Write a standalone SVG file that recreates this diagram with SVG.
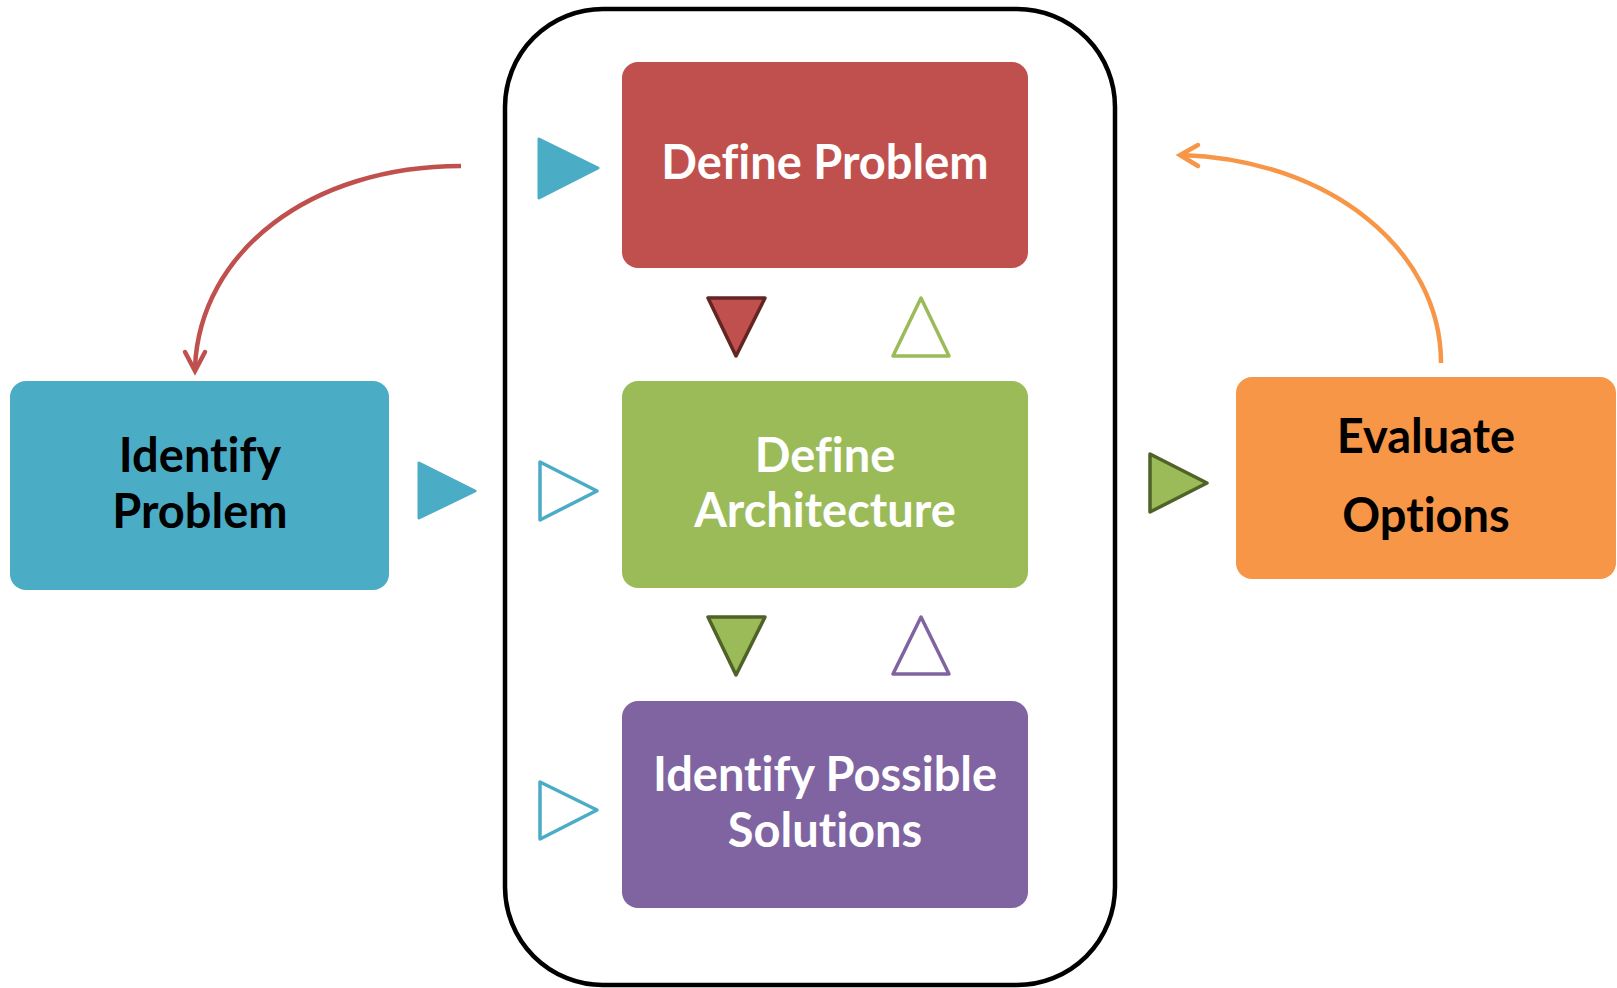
<svg xmlns="http://www.w3.org/2000/svg" width="1617" height="988" viewBox="0 0 1617 988">
  <style>
    .lbl { font-family: Lato, "Open Sans", "Liberation Sans", sans-serif; font-weight: bold; font-size: 47px; text-anchor: middle; font-variant-ligatures: none; font-feature-settings: "liga" 0, "clig" 0; }
    .light { fill: #ffffff; }
    .dark { fill: #000000; }
    .cyan-fill { fill: #4BACC6; stroke: #4BACC6; stroke-width: 3; stroke-linejoin: round; }
    .cyan-open { fill: #ffffff; stroke: #4BACC6; stroke-width: 3.5; stroke-linejoin: round; }
    .link { fill: none; stroke-width: 4.5; stroke-linecap: butt; }
    .head { fill: none; stroke-width: 4.5; stroke-linecap: round; stroke-linejoin: miter; }
  </style>
  <rect width="1617" height="988" fill="#ffffff"/>

  <!-- container around the three central steps -->
  <rect id="container" x="505" y="9" width="610" height="976" rx="98" ry="98" fill="none" stroke="#000000" stroke-width="4.5"/>

  <g id="define-problem">
    <rect x="622" y="62" width="406" height="206" rx="16" fill="#C0504D"/>
    <text class="lbl light" x="825" y="179">Define Problem</text>
  </g>

  <g id="define-architecture">
    <rect x="622" y="381" width="406" height="207" rx="16" fill="#9BBB59"/>
    <text class="lbl light" x="825" y="472">Define</text>
    <text class="lbl light" x="825" y="527">Architecture</text>
  </g>

  <g id="identify-solutions">
    <rect x="622" y="701" width="406" height="207" rx="16" fill="#8064A2"/>
    <text class="lbl light" x="825" y="791">Identify Possible</text>
    <text class="lbl light" x="825" y="847">Solutions</text>
  </g>

  <g id="identify-problem">
    <rect x="10" y="381" width="379" height="209" rx="16" fill="#4BACC6"/>
    <text class="lbl dark" x="200" y="472">Identify</text>
    <text class="lbl dark" x="200" y="528">Problem</text>
  </g>

  <g id="evaluate-options">
    <rect x="1236" y="377" width="380" height="202" rx="16" fill="#F79646"/>
    <text class="lbl dark" x="1426" y="453">Evaluate</text>
    <text class="lbl dark" x="1426" y="532">Options</text>
  </g>

  <g id="connectors">
    <!-- flow markers into the container -->
    <polygon class="cyan-fill" points="539,139 539,198 598,168"/>
    <polygon class="cyan-fill" points="419,463 419,518 475,491"/>
    <polygon class="cyan-open" points="540,462 540,520 597,491"/>
    <polygon class="cyan-open" points="540,782 540,839 597,810"/>

    <!-- between the stacked steps -->
    <polygon points="708,298 765,298 736,356" fill="#C0504D" stroke="#632523" stroke-width="3.5" stroke-linejoin="round"/>
    <polygon points="893,356 949,356 921,298" fill="#ffffff" stroke="#9BBB59" stroke-width="3.5" stroke-linejoin="round"/>
    <polygon points="708,617 765,617 736,675" fill="#9BBB59" stroke="#4F6228" stroke-width="3.5" stroke-linejoin="round"/>
    <polygon points="893,674 949,674 921,617" fill="#ffffff" stroke="#8064A2" stroke-width="3.5" stroke-linejoin="round"/>

    <!-- towards the evaluation step -->
    <polygon points="1150,454 1150,512 1207,483" fill="#9BBB59" stroke="#4F6228" stroke-width="3.5" stroke-linejoin="round"/>

    <!-- loop back to the problem -->
    <path class="link" stroke="#C0504D" d="M461,166 C310,166 200,252 195,367"/>
    <polyline class="head" stroke="#C0504D" points="185,352 195,371 205,352"/>

    <!-- loop back from the evaluation -->
    <path class="link" stroke="#F79646" d="M1441,363 C1441,250 1330,160 1182,155"/>
    <polyline class="head" stroke="#F79646" points="1198,145 1180,155 1198,166"/>
  </g>
</svg>
